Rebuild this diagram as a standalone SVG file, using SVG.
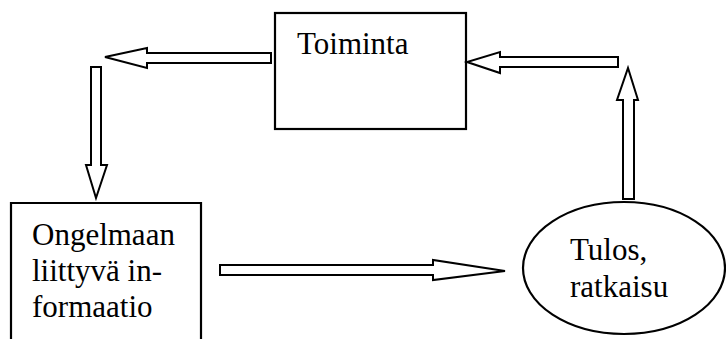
<svg xmlns="http://www.w3.org/2000/svg" width="726" height="339" viewBox="0 0 726 339">
<style>
.shape{fill:#fff;stroke:#000;stroke-width:2.2}
.arrow{fill:#fff;stroke:#000;stroke-width:2;stroke-linejoin:miter}
text{font-family:'Liberation Serif','DejaVu Serif',serif;font-size:31px;fill:#000}
</style>
<rect width="726" height="339" fill="#fff"/>
<g id="toiminta">
<rect class="shape" x="275" y="13" width="191" height="116"/>
<text x="297" y="54" font-family="Liberation Serif, DejaVu Serif, serif">Toiminta</text>
</g>
<g id="ongelmaan">
<path class="shape" d="M11,339 L11,203 L201,203 L201,339"/>
<text x="32" y="245" font-family="Liberation Serif, DejaVu Serif, serif">Ongelmaan</text>
<text x="32" y="281" font-family="Liberation Serif, DejaVu Serif, serif">liittyvä in-</text>
<text x="32" y="317" font-family="Liberation Serif, DejaVu Serif, serif">formaatio</text>
</g>
<g id="tulos">
<ellipse class="shape" cx="624" cy="268" rx="101" ry="66"/>
<text x="570" y="260" font-family="Liberation Serif, DejaVu Serif, serif">Tulos,</text>
<text x="570" y="297" font-family="Liberation Serif, DejaVu Serif, serif">ratkaisu</text>
</g>
<g id="connectors">
<polygon class="arrow" points="271,53 271,63 147,63 147,68 105,57 147,48 147,53"/>
<polygon class="arrow" points="91,67 101,67 101,165 107,165 96,198 86,165 91,165"/>
<polygon class="arrow" points="220,265 433,265 433,260 505,271 433,280 433,275 220,275"/>
<polygon class="arrow" points="623,199 623,100 617,100 628,68 638,100 634,100 634,199"/>
<polygon class="arrow" points="618,57 618,67 500,67 500,73 467,62 500,52 500,57"/>
</g>
</svg>
